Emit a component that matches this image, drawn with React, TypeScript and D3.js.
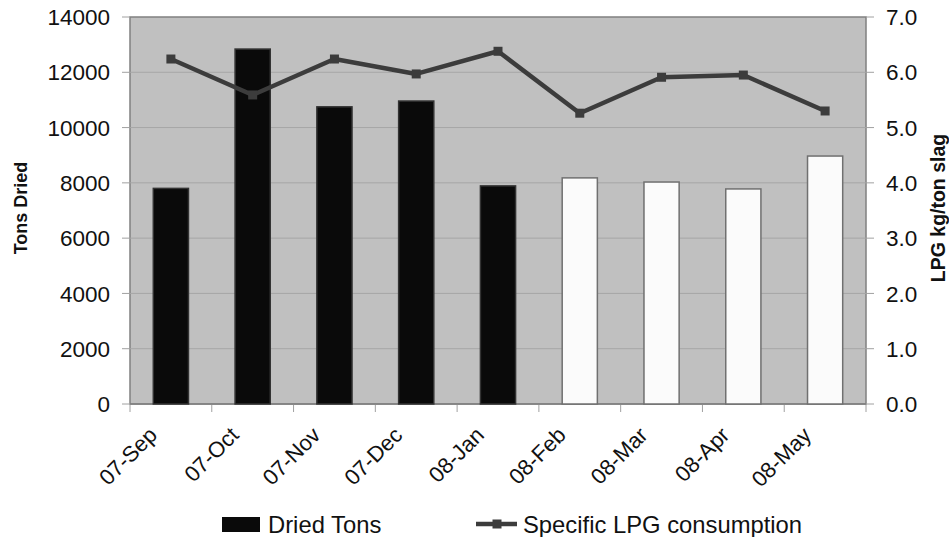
import React from "react";
import * as d3 from "d3";

const categories = ["07-Sep", "07-Oct", "07-Nov", "07-Dec", "08-Jan", "08-Feb", "08-Mar", "08-Apr", "08-May"];
const driedTons = [7800, 12840, 10750, 10960, 7890, 8180, 8030, 7780, 8970];
const actual = [true, true, true, true, true, false, false, false, false];
const lpg = [6.24, 5.59, 6.24, 5.97, 6.38, 5.26, 5.91, 5.95, 5.3];
const leftTicks = [0, 2000, 4000, 6000, 8000, 10000, 12000, 14000];
const rightTicks = [0, 1, 2, 3, 4, 5, 6, 7];

const W = 949, H = 537;
const L = 130, R = 866, T = 17, B = 404;
const FONT = "Liberation Sans, Arial, sans-serif";

export default function App() {
  const x = d3.scaleBand<string>().domain(categories).range([L, R]).paddingInner(0.57).paddingOuter(0.285);
  const xb = d3.scaleBand<string>().domain(categories).range([L, R]);
  const yL = d3.scaleLinear().domain([0, 14000]).range([B, T]);
  const yR = d3.scaleLinear().domain([0, 7]).range([B, T]);
  const line = d3.line<number>().x((_, i) => xb(categories[i])! + xb.bandwidth() / 2).y((d) => yR(d));
  const bounds = [...categories.map((c) => xb(c)!), R];

  return (
    <svg width={W} height={H} style={{ position: "absolute", left: 0, top: 0, background: "#fff" }}>
      <rect x={L} y={T} width={R - L} height={B - T} fill="#c0c0c0" stroke="#808080" strokeWidth={1.5} />
      {leftTicks.map((t) => (
        <g key={t}>
          {t > 0 && t < 14000 && <line x1={L} x2={R} y1={yL(t)} y2={yL(t)} stroke="#a6a6a6" strokeWidth={1} />}
          <line x1={L - 8} x2={L} y1={yL(t)} y2={yL(t)} stroke="#a0a0a0" strokeWidth={1} />
          <text x={L - 20} y={yL(t)} dy="0.36em" textAnchor="end" fontFamily={FONT} fontSize={22.5} fill="#111">{t}</text>
        </g>
      ))}
      {rightTicks.map((t) => (
        <g key={t}>
          <line x1={R} x2={R + 8} y1={yR(t)} y2={yR(t)} stroke="#a0a0a0" strokeWidth={1} />
          <text x={R + 20} y={yR(t)} dy="0.36em" textAnchor="start" fontFamily={FONT} fontSize={22.5} fill="#111">{t.toFixed(1)}</text>
        </g>
      ))}
      {bounds.map((b, i) => (
        <line key={i} x1={b} x2={b} y1={B} y2={B + 8} stroke="#a0a0a0" strokeWidth={1} />
      ))}
      <line x1={L} x2={R} y1={B} y2={B} stroke="#808080" strokeWidth={1.5} />
      {categories.map((c, i) => (
        <rect key={c} x={x(c)} y={yL(driedTons[i])} width={x.bandwidth()} height={B - yL(driedTons[i])}
          fill={actual[i] ? "#0a0a0a" : "#fbfbfb"} stroke={actual[i] ? "#333" : "#707070"} strokeWidth={1.5} />
      ))}
      <path d={line(lpg)!} fill="none" stroke="#3c3c3c" strokeWidth={4.5} strokeLinejoin="round" />
      {lpg.map((v, i) => {
        const cx = xb(categories[i])! + xb.bandwidth() / 2;
        return <rect key={i} x={cx - 4.5} y={yR(v) - 4.5} width={9} height={9} fill="#3c3c3c" />;
      })}
      {categories.map((c) => {
        const cx = xb(c)! + xb.bandwidth() / 2 - 18;
        return (
          <text key={c} transform={`translate(${cx},${B + 27}) rotate(-45)`} textAnchor="end" dy="0.35em"
            fontFamily={FONT} fontSize={22} fill="#111">{c}</text>
        );
      })}
      <text transform={`translate(27,208) rotate(-90)`} textAnchor="middle" fontFamily={FONT}
        fontSize={18} fontWeight="bold" fill="#111">Tons Dried</text>
      <text transform={`translate(945,208) rotate(-90)`} textAnchor="middle" fontFamily={FONT}
        fontSize={19.5} fontWeight="bold" fill="#111">LPG kg/ton slag</text>
      <rect x={222} y={517} width={38} height={15} fill="#0a0a0a" />
      <text x={268} y={524.5} dy="0.36em" fontFamily={FONT} fontSize={23.8} fill="#111">Dried Tons</text>
      <line x1={476} x2={517} y1={524} y2={524} stroke="#3c3c3c" strokeWidth={4.5} />
      <rect x={492.5} y={519.5} width={9} height={9} fill="#3c3c3c" />
      <text x={523} y={524.5} dy="0.36em" fontFamily={FONT} fontSize={23.8} fill="#111">Specific LPG consumption</text>
    </svg>
  );
}
